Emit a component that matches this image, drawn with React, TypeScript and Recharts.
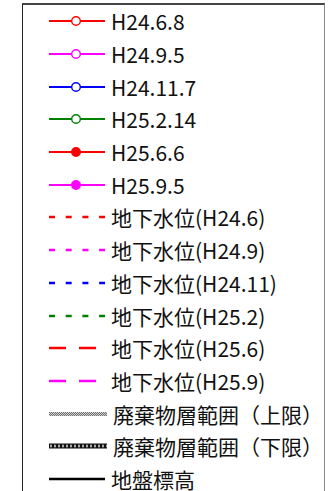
import { LineChart, Line, XAxis, YAxis, Legend } from 'recharts';

// series shown in the legend (no plotted data is visible in the reference)
const SERIES_NAMES = [
  'H24.6.8', 'H24.9.5', 'H24.11.7', 'H25.2.14', 'H25.6.6', 'H25.9.5',
  '地下水位(H24.6)', '地下水位(H24.9)', '地下水位(H24.11)', '地下水位(H25.2)',
  '地下水位(H25.6)', '地下水位(H25.9)',
  '廃棄物層範囲（上限）', '廃棄物層範囲（下限）', '地盤標高',
];
const SERIES_COLORS = [
  '#ff0000', '#ff00ff', '#0000ff', '#008000', '#ff0000', '#ff00ff',
  '#ff0000', '#ff00ff', '#0000ff', '#008000', '#ff0000', '#ff00ff',
  '#999999', '#000000', '#000000',
];
// marker / line kind per series
const SERIES_KINDS = [
  'open', 'open', 'open', 'open', 'filled', 'filled',
  'dot', 'dot', 'dot', 'dot', 'dash', 'dash',
  'upper', 'lower', 'solid',
];

const data: Record<string, number>[] = [];

function LegendIcon({ kind, color }: { kind: string; color: string }) {
  const y = 10;
  if (kind === 'open' || kind === 'filled') {
    return (
      <svg width={58} height={20}>
        <line x1={0} y1={y} x2={56} y2={y} stroke={color} strokeWidth={2.2} />
        <circle cx={27} cy={y} r={4.3} fill={kind === 'open' ? '#fff' : color} stroke={color} strokeWidth={1.4} />
      </svg>
    );
  }
  if (kind === 'dot') {
    return (
      <svg width={58} height={20}>
        <line x1={0} y1={y} x2={56} y2={y} stroke={color} strokeWidth={2.6} strokeDasharray="6 10.7" />
      </svg>
    );
  }
  if (kind === 'dash') {
    return (
      <svg width={58} height={20}>
        <line x1={0} y1={y} x2={52} y2={y} stroke={color} strokeWidth={2.6} strokeDasharray="17 13" />
      </svg>
    );
  }
  if (kind === 'upper') {
    return (
      <svg width={60} height={20}>
        <defs>
          <pattern id="pUpper" width={2} height={2} patternUnits="userSpaceOnUse">
            <rect width={2} height={2} fill="#d0d0d0" />
            <rect width={1} height={1} fill="#707070" />
            <rect x={1} y={1} width={1} height={1} fill="#707070" />
          </pattern>
        </defs>
        <rect x={0} y={y - 2} width={58} height={4} fill="url(#pUpper)" />
      </svg>
    );
  }
  if (kind === 'lower') {
    return (
      <svg width={60} height={20}>
        <defs>
          <pattern id="pLower" width={4} height={5} patternUnits="userSpaceOnUse" y={y - 2.5}>
            <rect width={4} height={5} fill="#111" />
            <rect x={1} y={1.5} width={2} height={2} fill="#ddd" />
          </pattern>
        </defs>
        <rect x={0} y={y - 2.5} width={58} height={5} fill="url(#pLower)" />
      </svg>
    );
  }
  return (
    <svg width={58} height={20}>
      <line x1={0} y1={y} x2={56} y2={y} stroke={color} strokeWidth={2.6} />
    </svg>
  );
}

function renderLegend(props: any) {
  const payload = [...(props.payload || [])].sort(
    (a: any, b: any) => SERIES_NAMES.indexOf(a.value) - SERIES_NAMES.indexOf(b.value),
  );
  return (
    <div
      style={{
        width: 303,
        height: 500,
        boxSizing: 'border-box',
        borderLeft: '1px solid #222',
        borderRight: '1px solid #888',
        borderTop: '2px solid #444',
        background: '#fff',
      }}
    >
      {payload.map((entry: any) => {
        const i = SERIES_NAMES.indexOf(entry.value);
        return (
          <div key={entry.value} style={{ display: 'flex', alignItems: 'center', height: 32.7 }}>
            <div style={{ width: 26 }} />
            <LegendIcon kind={SERIES_KINDS[i]} color={SERIES_COLORS[i]} />
            <span
              style={{
                marginLeft: 4,
                fontFamily: '"Noto Sans CJK JP", sans-serif',
                fontSize: 21,
                lineHeight: '20px',
                color: '#111',
                whiteSpace: 'nowrap',
              }}
            >
              {entry.value}
            </span>
          </div>
        );
      })}
    </div>
  );
}

export default function App() {
  return (
    <div style={{ position: 'absolute', left: 0, top: 0, width: 328, height: 491, overflow: 'hidden', background: '#fff' }}>
      <LineChart width={328} height={491} data={data} margin={{ top: 0, right: 0, bottom: 0, left: 0 }}>
        <XAxis dataKey="x" hide />
        <YAxis hide />
        {SERIES_NAMES.map((name, i) => (
          <Line
            key={name}
            dataKey={name}
            name={name}
            stroke={SERIES_COLORS[i]}
            legendType="line"
            isAnimationActive={false}
          />
        ))}
        <Legend
          content={renderLegend}
          wrapperStyle={{ position: 'absolute', left: 22, top: 3, width: 303, margin: 0 }}
        />
      </LineChart>
    </div>
  );
}
